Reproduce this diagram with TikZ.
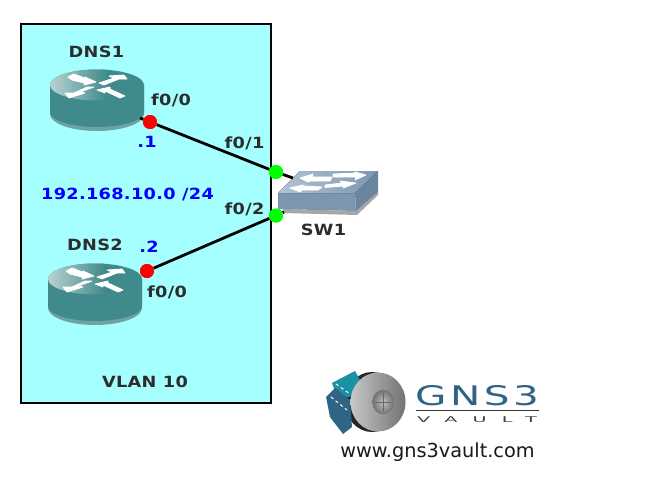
\documentclass[tikz,border=0pt]{standalone}
\usepackage{fontspec}
\setmainfont{DejaVu Sans}
\newfontfamily\lblfont[FakeStretch=1.15,LetterSpace=2]{DejaVu Sans Bold}
\newfontfamily\urlfont{DejaVu Sans}
\newfontfamily\gnsfont[FakeStretch=1.5,LetterSpace=13]{DejaVu Sans}
\newfontfamily\vaultfont[FakeStretch=2.4,LetterSpace=190]{DejaVu Sans}
\usetikzlibrary{calc}
\definecolor{vlanfill}{HTML}{A6FFFF}
\definecolor{rtdark}{HTML}{3F8A8A}
\definecolor{rtlow}{HTML}{6FA3A3}
\definecolor{rtlight}{HTML}{B8D2D2}
\definecolor{swdark}{HTML}{7C96B0}
\definecolor{swside}{HTML}{6A85A0}
\definecolor{swlight}{HTML}{B4C3D2}
\definecolor{lbl}{HTML}{2D2D2D}
\definecolor{gnsblue}{HTML}{2F6485}
\tikzset{
  lab/.style={font=\lblfont\fontsize{15.4}{17}\selectfont, text=lbl, inner sep=0pt},
  addr/.style={font=\lblfont\fontsize{15.4}{17}\selectfont, text=blue, inner sep=0pt},
  reddot/.style={circle, fill=red, minimum size=14pt, inner sep=0pt},
  greendot/.style={circle, fill=green, minimum size=14pt, inner sep=0pt},
  wire/.style={black, line width=2.8pt},
  arrowfill/.style={fill=white, draw=white, line width=.8pt, line join=round},
  router/.pic={
    \fill[rtlow] (-47,0) -- (-47,29) arc[start angle=180,end angle=0,x radius=47,y radius=17] -- (47,0) -- cycle;
    \fill[rtdark] (-47,0) -- (-47,27) arc[start angle=180,end angle=0,x radius=47,y radius=15] -- (47,0) -- cycle;
    \begin{scope}
      \clip (0,0) ellipse[x radius=47,y radius=15.5];
      \fill[rtdark] (-47,-16) rectangle (47,16);
      \shade[left color=rtlight, right color=rtdark] (-47,-16) rectangle (10,16);
    \end{scope}
    \fill[arrowfill] (-29,-8) -- (-23,-11) -- (-10,-6) -- (-12,-8) -- (-1,-3) -- (-13,0) -- (-13,-2) -- (-25,-5) -- cycle;
    \fill[arrowfill] (2,-2) -- (17,-7) -- (12,-9) -- (27,-10) -- (30,-6) -- (22,-6) -- (7,0) -- cycle;
    \fill[arrowfill] (-3,2) -- (-17,7) -- (-12,8) -- (-28,13) -- (-32,8) -- (-23,8) -- (-10,2) -- cycle;
    \fill[arrowfill] (0,5) -- (13,2) -- (13,4) -- (28,11) -- (23,13) -- (8,6) -- (8,8) -- cycle;
  }
}
\begin{document}
\begin{tikzpicture}[x=1pt,y=-1pt]
\useasboundingbox (0,0) rectangle (663,485);
\fill[white] (0,0) rectangle (663,485);
\draw[black, line width=2.4pt, fill=vlanfill] (21,24) rectangle (271,403);

% routers
\pic at (97,85) {router};
\pic at (95,279) {router};

% switch
\fill[black!35] (283,209) -- (356,211) -- (378,192) -- (378,195) -- (357,215) -- (283,213) -- cycle;
\fill[swside] (355,193) -- (378,171) -- (378,192) -- (356,211) -- cycle;
\fill[swdark] (278,193) -- (355,193) -- (356,211) -- (278,209) -- cycle;
\fill[left color=swlight, right color=swdark] (278,193) -- (355,193) -- (378,171) -- (300,171) -- cycle;
\fill[arrowfill] (290,188) -- (303,185) -- (303,186) -- (322,187) -- (318,190) -- (302,190) -- (300,192) -- cycle;
\fill[arrowfill] (325,185) -- (342,183) -- (340,181) -- (356,183) -- (343,188) -- (344,186) -- (325,187.5) -- cycle;
\fill[arrowfill] (300,178) -- (313,174) -- (312,177) -- (332,177) -- (330,181) -- (310,181) -- (308,182) -- cycle;
\fill[arrowfill] (333,174) -- (356,173) -- (355,172) -- (366,175) -- (355,180) -- (356,177) -- (333,177) -- cycle;

% nodes
\node[reddot] (dnsAport) at (150,122) {};
\node[reddot] (dnsBport) at (147,271) {};
\node[greendot] (swAport) at (276,172) {};
\node[greendot] (swBport) at (276,215.5) {};
\coordinate (swAend) at (293,178);
\coordinate (dnsAstub) at (140,118);
\coordinate (swBstub) at (284,212);
\draw[wire] (dnsAstub) -- (dnsAport) -- (swAport) -- (swAend);
\draw[wire] (dnsBport) -- (swBport) -- (swBstub);
\node[reddot] at (dnsAport) {};
\node[reddot] at (dnsBport) {};
\node[greendot] at (swAport) {};
\node[greendot] at (swBport) {};

% labels
\node[lab] (dnsAname) at (96.5,52) {DNS1};
\node[lab] (dnsBname) at (95,245) {DNS2};
\node[lab] (swname) at (323.5,230) {SW1};
\node[lab] (ifA) at (171,100) {f0/0};
\node[lab] (ifB) at (244.5,143) {f0/1};
\node[lab] (ifC) at (244.5,209) {f0/2};
\node[lab] (ifD) at (167,292) {f0/0};
\node[lab] (vlan) at (145,382) {VLAN 10};
\node[addr] (hostA) at (147,142) {.1};
\node[addr] (hostB) at (149,247) {.2};
\node[addr] (subnet) at (127.5,194) {192.168.10.0 /24};

% logo
\fill[black!85] (372,402) ellipse[x radius=27,y radius=30];
\fill[gnsblue!60!cyan!90!black] (332,383) -- (355,371) -- (360,380) -- (350,397) -- (337,397) -- cycle;
\fill[gnsblue] (326,397) -- (335,388) -- (350,400) -- (352,427) -- (343,434) -- (330,417) -- cycle;
\draw[white, line width=1pt, dashed] (331,397) -- (347,410);
\draw[white, line width=1pt, dashed] (336,384) -- (350,394);
\shade[left color=black!22, right color=black!55] (378,402) ellipse[x radius=27.5,y radius=29.5];
\shade[inner color=black!25, outer color=black!55, draw=black!55] (383,402) ellipse[x radius=10.5,y radius=12];
\draw[black!60, line width=.8pt] (383,393) -- (383,411) (375,402) -- (391,402);
\node[inner sep=0pt, text=gnsblue, font=\gnsfont\fontsize{27}{29}\selectfont] (gnsname) at (477,396) {GNS3};
\coordinate (ruleA) at (416,410.5);
\coordinate (ruleB) at (539,410.5);
\draw[black!80, line width=.8pt] (ruleA) -- (ruleB);
\node[inner sep=0pt, text=black!75, font=\vaultfont\fontsize{8}{9}\selectfont] (vaultname) at (477,419.5) {VAULT};
\node[inner sep=0pt, text=black!90, font=\urlfont\fontsize{19.3}{21}\selectfont] (url) at (437.5,452) {www.gns3vault.com};
\end{tikzpicture}
\end{document}
